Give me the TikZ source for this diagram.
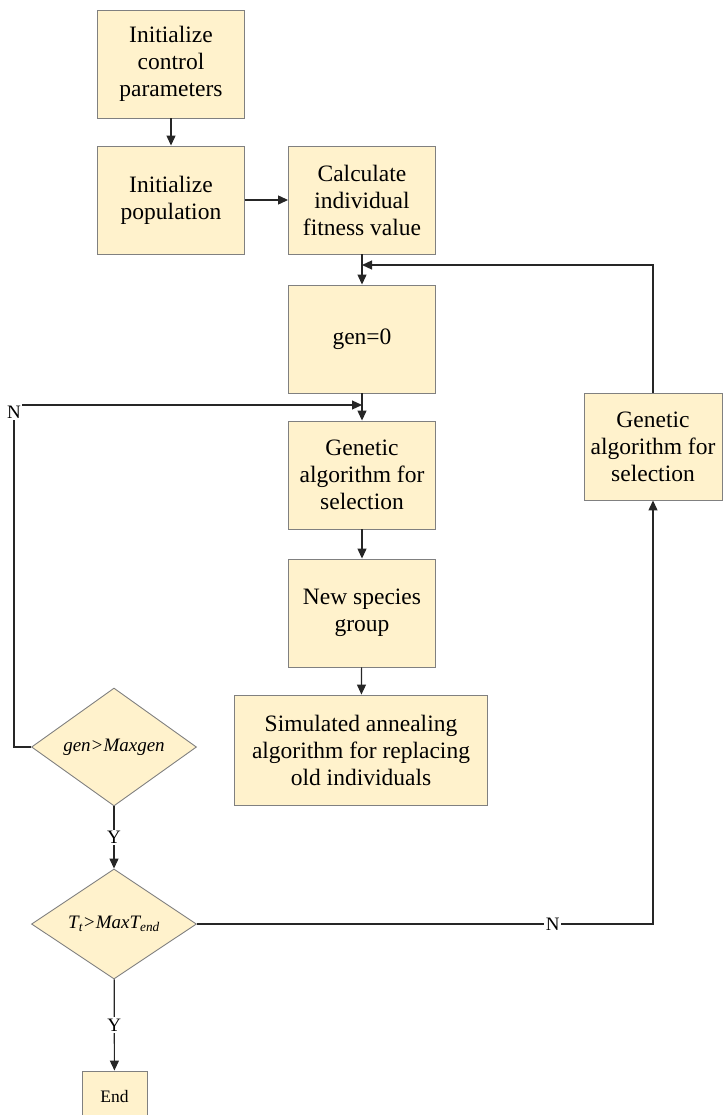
\documentclass[tikz,border=0pt]{standalone}
\usepackage{fontspec,xcolor}
\setmainfont{Liberation Serif}
\usetikzlibrary{arrows.meta,shapes.geometric}
\definecolor{boxfill}{RGB}{255,242,204}
\definecolor{boxline}{RGB}{128,128,128}

\begin{document}
\begin{tikzpicture}[x=1pt,y=-1pt,
  stepbox/.style={draw=boxline,fill=boxfill,line width=.9pt,align=center,inner sep=2pt,
    minimum width=147pt,minimum height=108pt,font=\fontsize{23.5}{27}\selectfont},
  testbox/.style={diamond,draw=boxline,fill=boxfill,line width=.9pt,inner sep=0pt,
    minimum width=165pt,minimum height=110pt,font=\fontsize{19}{23}\selectfont\itshape},
  flow/.style={draw=black!85,line width=1.2pt,-{Triangle[length=10pt,width=9pt]}},
  lbl/.style={fill=white,inner sep=1.5pt,font=\fontsize{19}{23}\selectfont}]
  \useasboundingbox (0,0) rectangle (722,1115);
  \node[stepbox] (ctrl) at (171,64) {Initialize\\control\\parameters};
  \node[stepbox] (pop) at (171,200) {Initialize\\population};
  \node[stepbox] (fit) at (362,200) {Calculate\\individual\\fitness value};
  \node[stepbox] (gen0) at (362,339) {gen=0};
  \node[stepbox] (gasel) at (362,475) {Genetic\\algorithm for\\selection};
  \node[stepbox] (newgrp) at (362,613) {New species\\group};
  \node[stepbox,minimum width=253pt,minimum height=110pt] (sa) at (361,750)
    {Simulated annealing\\algorithm for replacing\\old individuals};
  \node[stepbox,minimum width=138pt,minimum height=107pt] (garight) at (653,446.5)
    {Genetic\\algorithm for\\selection};
  \node[testbox] (gmax) at (114,747) {gen>Maxgen};
  \node[testbox] (ttest) at (114,924) {T\textsubscript{t}>MaxT\textsubscript{end}};
  \node[stepbox,minimum width=65pt,minimum height=50pt,font=\fontsize{17.5}{21}\selectfont] (end) at (114.5,1096) {End};
  \coordinate (backin) at (362,265);
  \coordinate (loopin) at (362,405);
  \coordinate (ncorner) at (14,405);
  \foreach \a/\b in {ctrl/pop,pop/fit,fit/gen0,gen0/gasel,gasel/newgrp,newgrp/sa}
    \draw[flow] (\a) -- (\b);
  \draw[flow] (gmax) -- node[lbl] {Y} (ttest);
  \draw[flow] (ttest) -- node[lbl] {Y} (end);
  \draw[flow] (ttest.east) -| node[lbl,pos=.39] {N} (garight.south);
  \draw[flow] (garight.north) |- (backin);
  \draw[flow] (gmax.west) -| (ncorner) -- (loopin);
  \node[lbl] (nlbl) at (14,412) {N};
\end{tikzpicture}
\end{document}
